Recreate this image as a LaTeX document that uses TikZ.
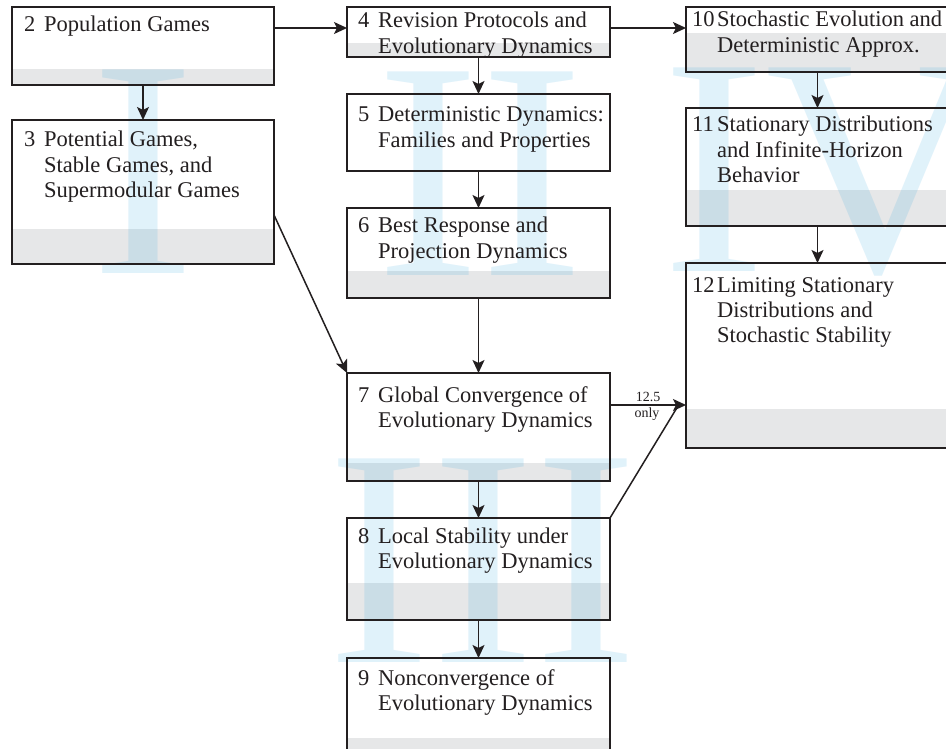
\documentclass[tikz,border=0pt]{standalone}
\usepackage{fontspec}
\setmainfont{Liberation Serif}
\usetikzlibrary{arrows.meta,calc}
\definecolor{ink}{HTML}{231F20}
\definecolor{band}{HTML}{E6E7E8}
\definecolor{wm}{RGB}{0,150,220}
\newcommand{\chbox}[6]{%
  \node[boxfill, minimum width=#4pt, minimum height=#5pt] (#1) at (#2,#3) {};
  \fill[band] (#1.south west) rectangle ($(#1.south east)+(0,-#6)$);}
\newcommand{\chframe}[1]{\draw[frame] (#1.north west) rectangle (#1.south east);}
\newcommand{\chtext}[5]{%
  \node[chtxt] (#1) at (#2,#3) {\parbox[t]{270pt}{\fontsize{22.5}{25.5}\selectfont\raggedright\hangindent=#4pt\hangafter=1 #5}};}
\begin{document}
\begin{tikzpicture}[x=1pt,y=-1pt,
  boxfill/.style={fill=white, draw=none, inner sep=0pt, outer sep=0pt, anchor=north west},
  frame/.style={draw=ink, line width=1.6pt},
  chtxt/.style={inner sep=0pt, anchor=base west, text=ink},
  wmark/.style={inner sep=0pt, text=wm, text opacity=0.12, font=\fontsize{311}{312}\selectfont},
  arr/.style={draw=ink, line width=1.5pt, -{Stealth[length=13pt,width=12pt,inset=3pt]}},
  plain/.style={draw=ink, line width=1.5pt},
  small/.style={inner sep=0pt, anchor=base, text=ink, font=\fontsize{14}{16}\selectfont}]
\useasboundingbox (0,0) rectangle (946,749);
\clip (0,0) rectangle (946,749);
\fill[white] (0,0) rectangle (946,749);
% box fills and grey bands
\chbox{b2}{12}{7}{262}{78}{16}
\chbox{b3}{12}{120}{262}{144}{35}
\chbox{b4}{347}{7}{263}{50}{14}
\chbox{b5}{347}{94}{263}{77}{0}
\chbox{b6}{347}{208}{263}{90}{27}
\chbox{b7}{347}{373}{263}{108}{18}
\chbox{b8}{347}{518}{263}{102}{37}
\chbox{b9}{347}{658}{263}{100}{20}
\chbox{b10}{686}{7}{263}{65}{39}
\chbox{b11}{686}{108}{263}{118}{36}
\chbox{b12}{686}{263}{263}{185}{39}
% watermark numerals
\node[wmark, anchor=base] (wI) at (143,273) {I};
\node[wmark, anchor=base] (wII) at (480,275) {II};
\node[wmark, anchor=base] (wIII) at (483,662) {III};
\node[wmark, anchor=base west] (wIV) at (662,272) {IV};
% frames
\chframe{b2}\chframe{b3}\chframe{b4}\chframe{b5}\chframe{b6}\chframe{b7}
\chframe{b8}\chframe{b9}\chframe{b10}\chframe{b11}\chframe{b12}
% texts
\chtext{t2}{24}{32}{20}{\makebox[20pt][l]{2}Population Games}
\chtext{t3}{24}{147}{20}{\makebox[20pt][l]{3}Potential Games,\newline Stable Games, and\newline Supermodular Games}
\chtext{t4}{358}{28}{20}{\makebox[20pt][l]{4}Revision Protocols and\newline Evolutionary Dynamics}
\chtext{t5}{358}{122}{20}{\makebox[20pt][l]{5}Deterministic Dynamics:\newline Families and Properties}
\chtext{t6}{358}{233}{20}{\makebox[20pt][l]{6}Best Response and\newline Projection Dynamics}
\chtext{t7}{358}{402}{20}{\makebox[20pt][l]{7}Global Convergence of\newline Evolutionary Dynamics}
\chtext{t8}{358}{543}{20}{\makebox[20pt][l]{8}Local Stability under\newline Evolutionary Dynamics}
\chtext{t9}{358}{685}{20}{\makebox[20pt][l]{9}Nonconvergence of\newline Evolutionary Dynamics}
\chtext{t10}{692}{27}{25}{\makebox[25pt][l]{10}Stochastic Evolution and\newline Deterministic Approx.}
\chtext{t11}{692}{132}{25}{\makebox[25pt][l]{11}Stationary Distributions\newline and Infinite-Horizon\newline Behavior}
\chtext{t12}{692}{292}{25}{\makebox[25pt][l]{12}Limiting Stationary\newline Distributions and\newline Stochastic Stability}
% connectors
\draw[arr] ($(b2.north east)+(0,21)$) -- ($(b4.north west)+(0,21)$);
\draw[arr] ($(b4.north east)+(0,21)$) -- ($(b10.north west)+(0,21)$);
\draw[arr] (b2.south) -- (b3.north);
\draw[arr] (b4.south) -- (b5.north);
\draw[arr] (b5.south) -- (b6.north);
\draw[arr] (b6.south) -- (b7.north);
\draw[arr] (b7.south) -- (b8.north);
\draw[arr] (b8.south) -- (b9.north);
\draw[arr] (b10.south) -- (b11.north);
\draw[arr] (b11.south) -- (b12.north);
\draw[arr] ($(b3.north east)+(0,95)$) -- (b7.north west);
\draw[arr] ($(b7.north east)+(0,32)$) -- ($(b12.north west)+(0,142)$);
\coordinate (j) at ($(b12.north west)+(-8,143)$);
\draw[plain] (b8.north east) -- (j);
\node[small] (l1) at (648,401) {12.5};
\node[small] (l2) at (647,417) {only};
\end{tikzpicture}
\end{document}
